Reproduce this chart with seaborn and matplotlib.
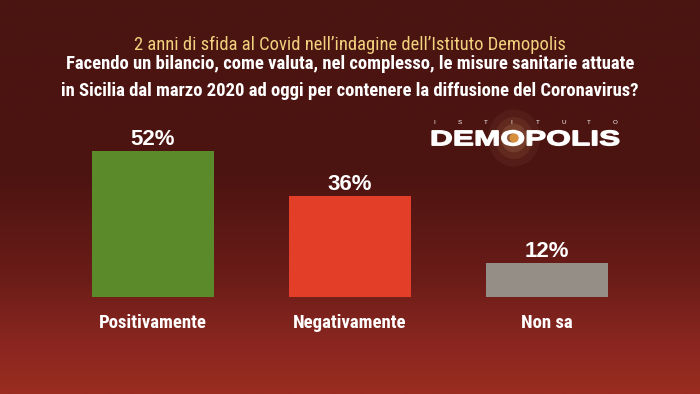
import numpy as np
import matplotlib.pyplot as plt
import matplotlib.font_manager as fm
from matplotlib.colors import LinearSegmentedColormap
from matplotlib.textpath import TextPath
from matplotlib.patches import PathPatch, Ellipse
from matplotlib.transforms import Affine2D
import pandas as pd
import seaborn as sns

# Data
categories = ["Positivamente", "Negativamente", "Non sa"]
values = [52, 36, 12]
bar_colors = ["#5b8a2b", "#e33e27", "#958e87"]

subtitle = "2 anni di sfida al Covid nell\u2019indagine dell\u2019Istituto Demopolis"
question = ("Facendo un bilancio, come valuta, nel complesso, le misure sanitarie attuate\n"
            "in Sicilia dal marzo 2020 ad oggi per contenere la diffusione del Coronavirus?")

# pick a condensed font if one is installed, otherwise Liberation Sans
names = {f.name for f in fm.fontManager.ttflist}
candidates = ["Roboto Condensed", "Archivo Narrow", "PT Sans Narrow",
              "Asap Condensed", "Liberation Sans Narrow", "Liberation Sans"]
cond = next((c for c in candidates if c in names), "DejaVu Sans")
wide = ["Liberation Sans", "DejaVu Sans"]

sns.set_theme(style="white")
plt.rcParams["font.family"] = [cond, "DejaVu Sans"]

df = pd.DataFrame({"cat": categories, "val": values})

W, H = 700, 394
fig = plt.figure(figsize=(W / 100, H / 100), dpi=100)
ax = fig.add_axes([0, 0, 1, 1])

# pixel mapping: bar centres at 153/350/547 px, baseline at y=297 px, 2.81 px per %
spacing = 197.0
x0 = -153 / spacing
x1 = (W - 153) / spacing
ppu = 2.81
y0 = -97 / ppu
y1 = (H - 97) / ppu

# background gradient (top -> bottom)
bg = LinearSegmentedColormap.from_list(
    "bg", [(0.0, "#4a1411"), (0.45, "#4d1411"), (0.7, "#6a1c18"), (0.85, "#86251f"), (1.0, "#9a2d20")])
grad = np.linspace(0, 1, 256).reshape(-1, 1)
ax.imshow(grad, cmap=bg, aspect="auto", extent=[x0, x1, y0, y1], origin="upper", zorder=0)

sns.barplot(data=df, x="cat", y="val", hue="cat", palette=bar_colors,
            width=0.62, legend=False, saturation=1, ax=ax, zorder=2, linewidth=0)

ax.set_xlim(x0, x1)
ax.set_ylim(y0, y1)
ax.axis("off")

for i, v in enumerate(values):
    ax.text(i, v + 6 / ppu, f"{v}%", ha="center", va="baseline", color="white",
            fontsize=16, fontweight="bold", family=wide)
    ax.text(i, -9.3, categories[i], ha="center", va="center", color="white",
            fontsize=13.5, fontweight="bold")

fig.text(0.5, 1 - 45 / H, subtitle, ha="center", va="center", color="#f2d27e", fontsize=13.3)
fig.text(0.5, 1 - 77.5 / H, question, ha="center", va="center", color="white",
         fontsize=13.4, fontweight="bold", linespacing=1.62)

# logo: horizontally stretched "DEMOPOLIS" with a glowing O
px = Affine2D().scale(1 / W, 1 / H) + fig.transFigure
gx, gy = 514, H - 138
for r, a in [(26, 0.06), (19, 0.09), (13, 0.14), (8, 0.25)]:
    fig.add_artist(Ellipse((gx, gy), 2 * r, 2 * r * 1.1, color="#e9b47a", alpha=a,
                           lw=0, transform=px))

prop = fm.FontProperties(family=wide, weight="bold")
tp = TextPath((0, 0), "DEMOPOLIS", size=1, prop=prop)
ext = tp.get_extents()
lx0, lx1, base, cap = 432, 619, H - 145.5, 15.0
sx = (lx1 - lx0) / ext.width
sy = cap / ext.height
tr = Affine2D().translate(-ext.x0, -ext.y0).scale(sx, sy).translate(lx0, base) + px
fig.add_artist(PathPatch(tp, facecolor="white", edgecolor="white", lw=0.9, transform=tr))

fig.add_artist(Ellipse((gx, gy), 9, 9, color="#e39a3c", alpha=0.85, lw=0, transform=px))

for i, ch in enumerate("ISTITUTO"):
    fig.text((434 + i * (615 - 434) / 7) / W, 1 - 123 / H, ch, ha="center", va="center",
             color="white", fontsize=4.5, family=wide)

fig.savefig("out.png", dpi=100)
